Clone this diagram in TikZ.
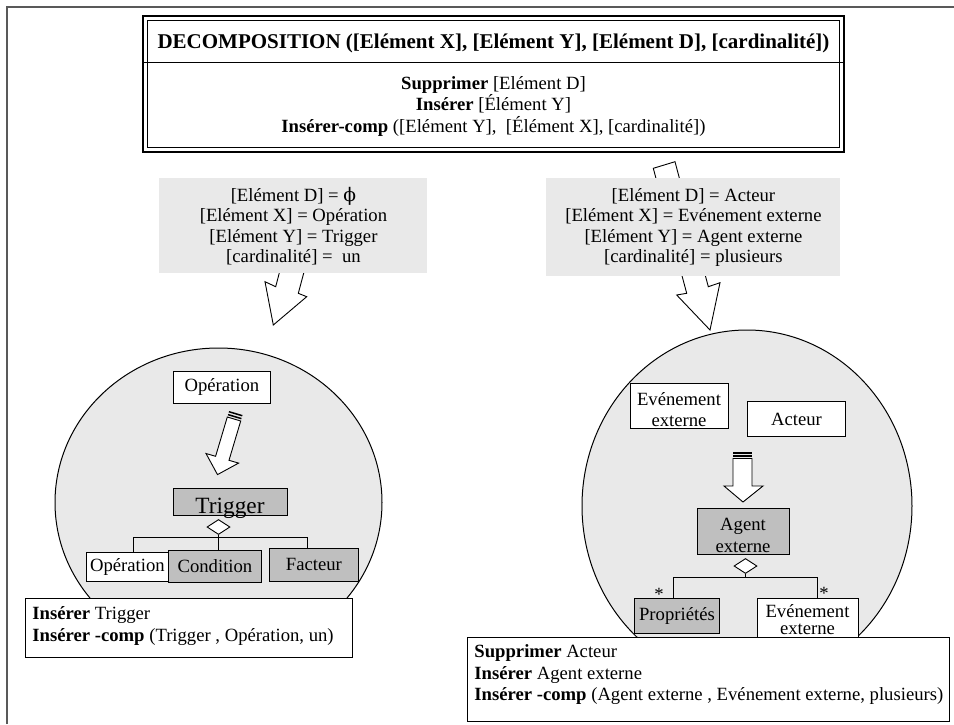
\documentclass[tikz,border=0pt]{standalone}
\usepackage{fontspec}
\setmainfont{Liberation Serif}
\newfontfamily\symbfont{DejaVu Serif}
\usetikzlibrary{shapes.geometric}
\newcommand{\txt}{\fontsize{18.67}{21.5}\selectfont}

\begin{document}
\begin{tikzpicture}[x=1pt, y=-1pt, line width=0.9pt, line join=miter,
		every node/.style={font=\txt, inner sep=0pt},
		boite/.style={draw, fill=white, anchor=north west},
		boitegrise/.style={draw, fill=gray!50, anchor=north west},
		valeurs/.style={fill=gray!17, anchor=north west, align=center, font=\fontsize{18.67}{20.5}\selectfont},
		fleche/.style={draw, fill=white},
		losange/.style={diamond, draw, fill=white, minimum width=23pt, minimum height=15pt},
		cadre/.style={draw, fill=white, anchor=north west}]
	\useasboundingbox (0,0) rectangle (954,724);
	
	% 外框线
	\draw[black!65, line width=1.2pt] (7,724) -- (7,7) -- (954,7);
	
	% 分解规则
	\draw[line width=2pt] (143,16) rectangle (844,152);
	\draw[line width=1.1pt] (147.5,20.5) rectangle (839.5,147.5);
	\draw (143,62) -- (844,62);
	\node[font=\fontsize{21}{24}\selectfont\bfseries] (titre) at (493.5,43) {DECOMPOSITION ([Elément X], [Elément Y], [Elément D], [cardinalité])};
	\node[align=center] (regle) at (493.5,106) {\textbf{Supprimer} [Elément D]\\\textbf{Insérer} [Élément Y]\\\textbf{Insérer-comp} ([Elément Y],\ \ [Élément X], [cardinalité])};
	
	% 大箭头（在灰框后面）
	\draw[fleche] (296,209) -- (319,216) -- (298.3,293.3) -- (306.7,296.7) -- (273.3,325) -- (265,281.7) -- (275.7,286.7) -- cycle;
	\draw[fleche] (653.3,168.3) -- (675,161.7) -- (708.3,286.7) -- (720,282.7) -- (710,330) -- (676.7,295) -- (686.7,293.3) -- cycle;
	
	% 参数框
	\node[valeurs, minimum width=268, minimum height=95] (valG) at (159,178) {[Elément D] = {\symbfont ϕ}\\{}[Elément X] = Opération\\{}[Elément Y] = Trigger\\{}[cardinalité] =\ \ un};
	\node[valeurs, minimum width=294, minimum height=98] (valD) at (546,178) {[Elément D] = Acteur\\{}[Elément X] = Evénement externe\\{}[Elément Y] = Agent externe\\{}[cardinalité] = plusieurs};
	
	% 左圆
	\draw[fill=gray!17, line width=1pt] (218.5,502.5) ellipse [x radius=163.5, y radius=154.5];
	\node[boite, minimum width=97, minimum height=32] (opH) at (173,371) {Opération};
	\draw[line width=1.5pt] (228.9,411.7) -- (242.3,415.7);
	\draw[line width=1.5pt] (228.0,414.6) -- (241.4,418.6);
	\draw[fleche] (227.3,417) -- (240.7,421) -- (229,460.3) -- (238.6,463.1) -- (217.5,474.6) -- (206,453.5) -- (215.6,456.3) -- cycle;
	\node[boitegrise, minimum width=114, minimum height=27] (trig) at (173,488) {};
	\node[font=\fontsize{23.3}{26}\selectfont, anchor=base] (trigT) at (230,513) {Trigger};
	\node[losange] (losG) at (218.5,527) {};
	\node[boite, minimum width=82, minimum height=29] (opB) at (86,552) {Opération};
	\node[boitegrise, minimum width=93, minimum height=32] (cond) at (168,550) {Condition};
	\node[boitegrise, minimum width=89, minimum height=33] (fact) at (269,548) {Facteur};
	\coordinate (brG) at ([yshift=-2pt]losG.south);
	\draw ([xshift=6pt]opB.north) |- (brG) -| ([xshift=-6.5pt]fact.north);
	\draw (losG.south) -- (brG |- cond.north);
	
	% 右圆
	\draw[fill=gray!17, line width=1pt] (747,506) ellipse [x radius=165, y radius=176];
	\node[boite, minimum width=98, minimum height=45] (evH) at (630,383) {};
	\node[anchor=base] (evH1) at (679,405) {Evénement};
	\node[anchor=base] (evH2) at (679,426.5) {externe};
	\node[boite, minimum width=98, minimum height=35] (act) at (747,401) {Acteur};
	\draw[line width=1.5pt] (733,453) -- (752,453);
	\draw[line width=1.5pt] (733,456) -- (752,456);
	\draw[fleche] (733,458.5) -- (752,458.5) -- (752,486) -- (763,486) -- (743,502) -- (724,486) -- (733,486) -- cycle;
	\node[boitegrise, minimum width=92, minimum height=46] (agent) at (697,508) {};
	\node[anchor=base] (agent1) at (743,530) {Agent};
	\node[anchor=base] (agent2) at (743,552) {externe};
	\node[losange] (losD) at (745.5,566) {};
	\node[boitegrise, minimum width=85, minimum height=35] (prop) at (634,598) {Propriétés};
	\node[boite, minimum width=101, minimum height=40] (evB) at (757,598) {};
	\node[align=center, font=\fontsize{18.67}{17}\selectfont] (evBt) at (807.5,620) {Evénement\\externe};
	\coordinate (brD) at ([yshift=-3pt]losD.south);
	\draw ([xshift=-3.5pt]prop.north) |- (brD) -| ([xshift=9.5pt]evB.north);
	\draw (losD.south) -- (brD);
	\node (etoileG) at (659,594) {*};
	\node (etoileD) at (824,593) {*};
	
	% 结果框
	\node[cadre, minimum width=327, minimum height=59] (resG) at (25,598) {};
	\node[anchor=north west, align=left] (resGt) at ([xshift=7pt, yshift=-8.5pt]resG.north west) {\textbf{Insérer} Trigger\\\textbf{Insérer -comp} (Trigger , Opération, un)};
	\node[cadre, minimum width=482, minimum height=84] (resD) at (467,637) {};
	\node[anchor=north west, align=left] (resDt) at ([xshift=7pt, yshift=-7.5pt]resD.north west) {\textbf{Supprimer} Acteur\\\textbf{Insérer} Agent externe\\\textbf{Insérer -comp} (Agent externe , Evénement externe, plusieurs)};
\end{tikzpicture}
\end{document}
